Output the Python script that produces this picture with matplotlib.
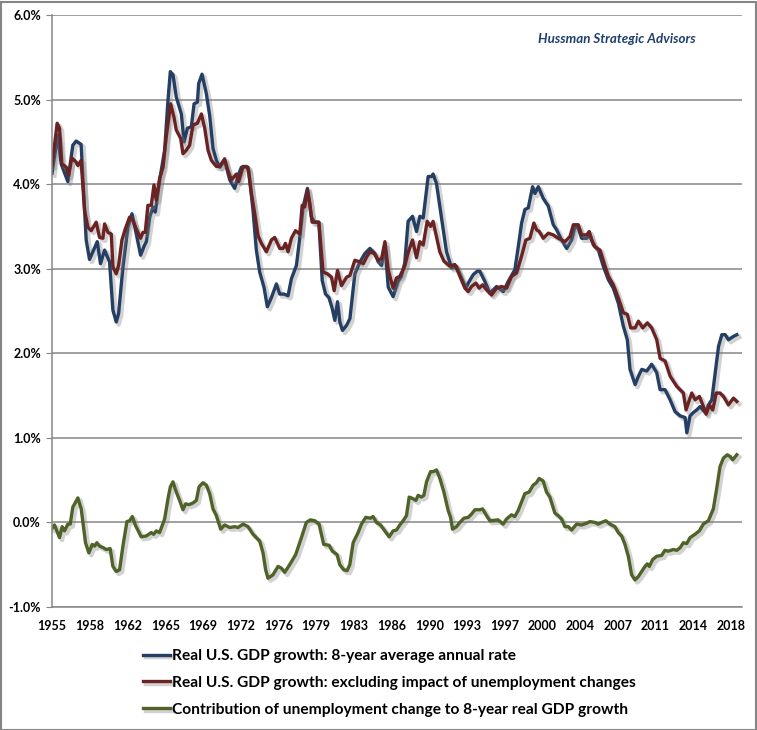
import matplotlib
matplotlib.use("Agg")
import matplotlib.pyplot as plt
import matplotlib.patheffects as pe
from matplotlib.patches import Rectangle

plt.rcParams['font.family'] = ['Lato', 'DejaVu Sans']

# Real U.S. GDP growth: 8-year average annual rate (%)
blue_years = [1955.0, 1955.54, 1955.85, 1956.47, 1956.93, 1957.24, 1957.7, 1958.17, 1958.48, 1959.2,
              1959.5, 1959.88, 1960.34, 1960.65, 1960.96, 1961.18, 1961.58, 1962.04, 1962.42, 1962.82,
              1963.22, 1963.59, 1963.75, 1964.06, 1964.37, 1964.58, 1964.99, 1965.45, 1965.76, 1965.98,
              1966.23, 1966.53, 1967.0, 1967.25, 1967.56, 1967.93, 1968.18, 1968.49, 1968.61, 1968.92,
              1969.32, 1969.63, 1969.94, 1970.25, 1970.56, 1971.02, 1971.49, 1971.95, 1972.26, 1972.57,
              1973.03, 1973.25, 1973.65, 1973.96, 1974.27, 1974.67, 1974.98, 1975.36, 1975.82, 1976.13,
              1976.53, 1976.9, 1977.21, 1977.68, 1977.99, 1978.3, 1978.7, 1979.07, 1979.38, 1979.76,
              1980.07, 1980.38, 1980.69, 1981.0, 1981.24, 1981.49, 1981.71, 1981.95, 1982.33, 1982.64,
              1983.1, 1983.57, 1984.03, 1984.5, 1984.96, 1985.27, 1985.58, 1985.89, 1986.2, 1986.65,
              1987.11, 1987.42, 1987.73, 1988.04, 1988.45, 1988.82, 1989.13, 1989.44, 1989.9, 1990.21,
              1990.36, 1990.67, 1991.14, 1991.6, 1992.07, 1992.53, 1993.0, 1993.4, 1993.62, 1994.08,
              1994.45, 1994.7, 1995.16, 1995.63, 1996.25, 1996.87, 1997.33, 1997.95, 1998.26, 1998.57,
              1998.88, 1999.19, 1999.59, 1999.81, 2000.12, 2000.58, 2001.05, 2001.51, 2001.82, 2002.28,
              2002.75, 2003.21, 2003.52, 2003.83, 2004.14, 2004.61, 2004.92, 2005.23, 2005.69, 2006.15,
              2006.62, 2007.08, 2007.55, 2008.01, 2008.38, 2008.63, 2009.1, 2009.41, 2009.72, 2010.18,
              2010.64, 2011.11, 2011.42, 2011.88, 2012.35, 2012.81, 2013.28, 2013.74, 2013.9, 2014.2,
              2014.51, 2014.82, 2015.13, 2015.6, 2015.91, 2016.22, 2016.53, 2016.84, 2017.15, 2017.46,
              2017.76, 2018.23, 2018.54]
blue_vals = [4.13, 4.58, 4.24, 4.03, 4.46, 4.51, 4.47, 3.34, 3.11, 3.32,
             3.06, 3.22, 3.08, 2.51, 2.37, 2.47, 3.02, 3.49, 3.65, 3.41,
             3.16, 3.28, 3.32, 3.61, 3.73, 3.67, 4.05, 4.40, 4.99, 5.33,
             5.29, 5.03, 4.83, 4.50, 4.66, 4.68, 4.95, 4.97, 5.19, 5.30,
             5.07, 4.81, 4.42, 4.28, 4.20, 4.28, 4.05, 3.95, 4.10, 4.20,
             4.21, 4.16, 3.69, 3.22, 2.96, 2.78, 2.55, 2.66, 2.82, 2.70,
             2.70, 2.68, 2.88, 3.04, 3.37, 3.73, 3.95, 3.61, 3.55, 3.55,
             2.86, 2.70, 2.66, 2.53, 2.39, 2.61, 2.37, 2.27, 2.33, 2.41,
             2.94, 3.08, 3.18, 3.24, 3.18, 3.08, 3.04, 3.28, 2.78, 2.67,
             2.85, 2.91, 3.07, 3.56, 3.62, 3.44, 3.62, 3.60, 4.09, 4.09,
             4.12, 4.01, 3.60, 3.20, 3.01, 3.03, 2.89, 2.77, 2.83, 2.93,
             2.97, 2.97, 2.85, 2.71, 2.79, 2.73, 2.85, 2.99, 3.26, 3.54,
             3.70, 3.72, 3.97, 3.89, 3.97, 3.83, 3.74, 3.52, 3.46, 3.34,
             3.24, 3.34, 3.50, 3.48, 3.36, 3.36, 3.40, 3.28, 3.22, 3.03,
             2.87, 2.77, 2.59, 2.32, 2.16, 1.81, 1.63, 1.73, 1.81, 1.79,
             1.87, 1.77, 1.57, 1.57, 1.45, 1.31, 1.26, 1.24, 1.06, 1.26,
             1.30, 1.33, 1.37, 1.30, 1.39, 1.45, 1.77, 2.08, 2.22, 2.22,
             2.16, 2.20, 2.22]

# Real U.S. GDP growth: excluding impact of unemployment changes (%)
red_years = [1955.0, 1955.48, 1955.7, 1955.91, 1956.32, 1956.53, 1956.84, 1957.24, 1957.4, 1957.7,
             1958.02, 1958.33, 1958.64, 1959.1, 1959.41, 1959.72, 1959.88, 1960.19, 1960.5, 1960.65,
             1960.96, 1961.18, 1961.49, 1961.8, 1962.2, 1962.51, 1962.82, 1963.22, 1963.44, 1963.65,
             1963.9, 1964.21, 1964.46, 1964.67, 1964.99, 1965.3, 1965.6, 1966.01, 1966.32, 1966.53,
             1966.94, 1967.15, 1967.46, 1967.77, 1968.08, 1968.49, 1968.86, 1969.17, 1969.48, 1969.79,
             1970.25, 1970.56, 1971.02, 1971.27, 1971.64, 1972.11, 1972.32, 1972.73, 1973.19, 1973.5,
             1973.81, 1974.12, 1974.43, 1974.89, 1975.36, 1975.66, 1976.13, 1976.44, 1976.66, 1976.9,
             1977.21, 1977.59, 1977.99, 1978.21, 1978.45, 1978.7, 1978.92, 1979.13, 1979.76, 1980.15,
             1980.56, 1980.93, 1981.18, 1981.49, 1981.86, 1982.33, 1982.64, 1983.1, 1983.57, 1983.88,
             1984.19, 1984.5, 1984.9, 1985.27, 1985.58, 1985.89, 1986.2, 1986.65, 1986.96, 1987.27,
             1987.73, 1988.04, 1988.45, 1988.82, 1989.13, 1989.44, 1989.81, 1990.12, 1990.36, 1990.67,
             1990.98, 1991.36, 1991.91, 1992.38, 1992.84, 1993.31, 1993.62, 1993.93, 1994.33, 1994.64,
             1994.95, 1995.32, 1995.78, 1996.25, 1996.71, 1997.18, 1997.64, 1998.1, 1998.57, 1998.97,
             1999.34, 1999.71, 1999.96, 2000.21, 2000.58, 2001.05, 2001.51, 2001.97, 2002.59, 2003.06,
             2003.37, 2003.83, 2004.14, 2004.61, 2004.85, 2005.07, 2005.38, 2005.85, 2006.31, 2006.62,
             2007.08, 2007.55, 2008.01, 2008.38, 2008.69, 2009.1, 2009.41, 2009.81, 2010.24, 2010.64,
             2011.11, 2011.42, 2011.88, 2012.35, 2012.96, 2013.58, 2013.83, 2014.14, 2014.36, 2014.67,
             2015.07, 2015.44, 2015.69, 2016.0, 2016.31, 2016.62, 2016.99, 2017.3, 2017.76, 2018.23,
             2018.54]
red_vals = [4.22, 4.72, 4.66, 4.24, 4.20, 4.10, 4.31, 4.26, 4.22, 4.28,
            3.69, 3.49, 3.45, 3.55, 3.37, 3.36, 3.53, 3.43, 3.41, 3.02,
            2.94, 3.04, 3.34, 3.47, 3.61, 3.57, 3.47, 3.36, 3.43, 3.43,
            3.75, 3.75, 3.99, 3.81, 4.07, 4.20, 4.56, 4.95, 4.79, 4.64,
            4.54, 4.36, 4.40, 4.46, 4.70, 4.72, 4.83, 4.66, 4.40, 4.28,
            4.21, 4.21, 4.30, 4.18, 4.05, 4.12, 4.03, 4.21, 4.20, 3.89,
            3.65, 3.39, 3.30, 3.20, 3.34, 3.37, 3.24, 3.24, 3.30, 3.20,
            3.36, 3.45, 3.41, 3.75, 3.73, 3.93, 3.77, 3.55, 3.55, 2.96,
            2.94, 2.90, 2.74, 2.98, 2.80, 2.90, 2.92, 3.10, 3.08, 3.06,
            3.14, 3.20, 3.18, 3.10, 3.12, 3.32, 2.98, 2.77, 2.89, 2.91,
            3.03, 3.19, 3.34, 3.13, 3.32, 3.28, 3.56, 3.50, 3.56, 3.38,
            3.20, 3.09, 3.03, 3.05, 2.91, 2.77, 2.73, 2.79, 2.83, 2.77,
            2.81, 2.75, 2.69, 2.77, 2.79, 2.77, 2.91, 2.95, 3.15, 3.34,
            3.36, 3.54, 3.46, 3.44, 3.36, 3.42, 3.40, 3.36, 3.32, 3.38,
            3.52, 3.52, 3.40, 3.40, 3.44, 3.34, 3.26, 3.22, 3.03, 2.91,
            2.81, 2.65, 2.48, 2.46, 2.30, 2.30, 2.38, 2.30, 2.36, 2.30,
            2.16, 1.94, 1.91, 1.73, 1.61, 1.53, 1.33, 1.45, 1.53, 1.45,
            1.49, 1.37, 1.28, 1.39, 1.33, 1.53, 1.53, 1.49, 1.39, 1.47,
            1.43]

# Contribution of unemployment change to 8-year real GDP growth (%)
green_years = [1955.0, 1955.23, 1955.7, 1955.94, 1956.16, 1956.47, 1956.69, 1956.93, 1957.4, 1957.71,
               1958.11, 1958.42, 1958.73, 1958.95, 1959.16, 1959.41, 1959.78, 1960.03, 1960.4, 1960.65,
               1960.96, 1961.27, 1961.58, 1961.95, 1962.2, 1962.45, 1962.76, 1963.28, 1963.75, 1964.21,
               1964.43, 1964.68, 1964.98, 1965.45, 1965.76, 1965.98, 1966.22, 1966.53, 1966.84, 1967.15,
               1967.4, 1967.71, 1968.08, 1968.39, 1968.64, 1969.01, 1969.32, 1969.63, 1969.94, 1970.25,
               1970.65, 1971.02, 1971.49, 1971.95, 1972.26, 1972.73, 1973.19, 1973.65, 1974.27, 1974.58,
               1974.82, 1975.04, 1975.5, 1975.97, 1976.28, 1976.59, 1977.05, 1977.61, 1978.14, 1978.6,
               1978.97, 1979.38, 1979.78, 1979.99, 1980.21, 1980.71, 1981.02, 1981.45, 1981.7, 1982.07,
               1982.38, 1982.63, 1982.94, 1983.4, 1983.71, 1984.11, 1984.55, 1984.79, 1985.1, 1985.48,
               1985.88, 1986.28, 1986.65, 1986.96, 1987.27, 1987.58, 1987.89, 1988.14, 1988.51, 1988.76,
               1988.97, 1989.28, 1989.5, 1989.75, 1990.12, 1990.37, 1990.68, 1990.99, 1991.36, 1991.76,
               1991.98, 1992.16, 1992.53, 1992.84, 1993.22, 1993.62, 1993.93, 1994.24, 1994.7, 1994.95,
               1995.32, 1995.63, 1996.39, 1996.86, 1997.17, 1997.63, 1997.94, 1998.25, 1998.56, 1998.87,
               1999.27, 1999.64, 1999.95, 2000.2, 2000.57, 2000.88, 2001.19, 2001.66, 2001.97, 2002.28,
               2002.59, 2002.9, 2003.21, 2003.67, 2004.13, 2004.6, 2004.91, 2005.37, 2005.68, 2005.99,
               2006.39, 2006.77, 2007.23, 2007.54, 2007.85, 2008.16, 2008.47, 2008.78, 2009.09, 2009.4,
               2009.71, 2010.02, 2010.23, 2010.42, 2010.73, 2011.1, 2011.56, 2011.87, 2012.18, 2012.65,
               2012.96, 2013.27, 2013.58, 2013.89, 2014.2, 2014.66, 2015.06, 2015.43, 2015.9, 2016.36,
               2016.67, 2016.98, 2017.29, 2017.66, 2017.91, 2018.16, 2018.53]
green_vals = [-0.07, -0.03, -0.18, -0.05, -0.10, -0.02, -0.02, 0.18, 0.29, 0.16,
              -0.24, -0.36, -0.26, -0.28, -0.24, -0.28, -0.30, -0.32, -0.31, -0.52,
              -0.58, -0.56, -0.28, 0.01, 0.02, 0.07, -0.04, -0.17, -0.16, -0.12,
              -0.14, -0.10, -0.12, 0.04, 0.28, 0.42, 0.48, 0.36, 0.26, 0.15,
              0.22, 0.21, 0.23, 0.26, 0.42, 0.47, 0.44, 0.34, 0.16, 0.08,
              -0.08, -0.03, -0.06, -0.05, -0.06, -0.02, -0.05, -0.14, -0.22, -0.36,
              -0.56, -0.66, -0.62, -0.52, -0.54, -0.59, -0.50, -0.38, -0.18, 0.00,
              0.03, 0.02, -0.02, -0.14, -0.26, -0.27, -0.34, -0.38, -0.50, -0.56,
              -0.57, -0.50, -0.24, -0.12, -0.02, 0.06, 0.05, 0.07, 0.00, -0.03,
              -0.10, -0.17, -0.10, -0.09, -0.03, 0.02, 0.08, 0.30, 0.28, 0.26,
              0.32, 0.30, 0.32, 0.48, 0.60, 0.60, 0.62, 0.52, 0.36, 0.14,
              0.06, -0.08, -0.05, 0.00, 0.05, 0.06, 0.10, 0.15, 0.15, 0.16,
              0.08, 0.02, 0.03, -0.02, 0.04, 0.09, 0.07, 0.14, 0.24, 0.34,
              0.36, 0.44, 0.47, 0.52, 0.49, 0.36, 0.30, 0.11, 0.08, 0.04,
              -0.05, -0.05, -0.09, -0.02, -0.03, -0.01, 0.01, 0.00, -0.02, 0.00,
              0.02, -0.02, -0.05, -0.12, -0.16, -0.26, -0.40, -0.62, -0.68, -0.64,
              -0.58, -0.52, -0.49, -0.52, -0.44, -0.40, -0.39, -0.33, -0.34, -0.32,
              -0.33, -0.30, -0.24, -0.25, -0.18, -0.14, -0.10, -0.02, 0.02, 0.16,
              0.40, 0.66, 0.76, 0.80, 0.78, 0.74, 0.80]

series_labels = ['Real U.S. GDP growth: 8-year average annual rate',
                 'Real U.S. GDP growth: excluding impact of unemployment changes',
                 'Contribution of unemployment change to 8-year real GDP growth']
xtick_labels = ['1955', '1958', '1962', '1965', '1969', '1972', '1976', '1979', '1983', '1986',
                '1990', '1993', '1997', '2000', '2004', '2007', '2011', '2014', '2018']
yticks = [-1, 0, 1, 2, 3, 4, 5, 6]

colors = ['#243F63', '#6B2223', '#4F6228']

fig = plt.figure(figsize=(7.57, 7.30), dpi=100)
ax = fig.add_axes([52 / 757, 1 - 607 / 730, 690 / 757, 592 / 730])

shadow = [pe.SimpleLineShadow(offset=(1.8, -1.8), shadow_color='#7f7f7f', alpha=0.35, linewidth=3.2),
          pe.Normal()]
for xs, ys, c, lab in zip([blue_years, red_years, green_years],
                          [blue_vals, red_vals, green_vals], colors, series_labels):
    ax.plot(xs, ys, color=c, lw=2.4, label=lab, path_effects=shadow, solid_joinstyle='round')

ax.set_xlim(1955, 2019.02)
ax.set_ylim(-1, 6)
ax.set_yticks(yticks)
ax.set_yticklabels(['%.1f%%' % v for v in yticks])
ax.set_xticks([1955 + 3.5 * i for i in range(len(xtick_labels))])
ax.set_xticklabels(xtick_labels)
ax.grid(axis='y', color='#868686', lw=1.1)
ax.set_axisbelow(True)
for s in ['top', 'right']:
    ax.spines[s].set_visible(False)
for s in ['left', 'bottom']:
    ax.spines[s].set_color('#868686')
    ax.spines[s].set_linewidth(1.1)
ax.tick_params(axis='y', length=4, color='#868686', labelsize=9, pad=4)
ax.tick_params(axis='x', length=0, labelsize=9, pad=9)
for t in ax.get_xticklabels() + ax.get_yticklabels():
    t.set_fontweight('bold')

ax.text(0.819, 0.96, 'Hussman Strategic Advisors', transform=ax.transAxes, ha='center', va='center',
        fontsize=9.6, style='italic', fontweight='bold', color='#1F3F6E')

leg = fig.legend(loc='upper left', bbox_to_anchor=(143 / 757, 1 - 649 / 730), frameon=False,
                 borderpad=0, borderaxespad=0,
                 handlelength=1.75, handletextpad=0.12, labelspacing=0.82,
                 prop={'size': 11.2, 'weight': 'bold'})

fig.patches.append(Rectangle((0.5 / 757, 0.5 / 730), 755 / 757, 728 / 730, transform=fig.transFigure,
                             fill=False, edgecolor='#868686', lw=1.5))

fig.savefig('out.png', dpi=100)
